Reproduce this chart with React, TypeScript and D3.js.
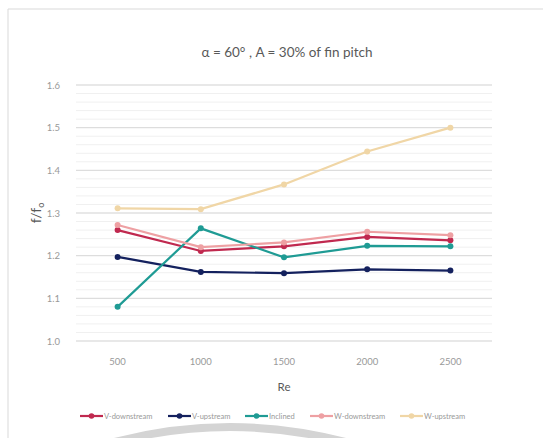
import React from "react";
import * as d3 from "d3";

const categories = [500, 1000, 1500, 2000, 2500];
const seriesNames = ["V-downstream", "V-upstream", "Inclined", "W-downstream", "W-upstream"];
const vDownstream = [1.260, 1.211, 1.222, 1.244, 1.236];
const vUpstream = [1.197, 1.162, 1.159, 1.168, 1.165];
const inclined = [1.080, 1.264, 1.196, 1.223, 1.222];
const wDownstream = [1.272, 1.220, 1.231, 1.256, 1.248];
const wUpstream = [1.311, 1.309, 1.367, 1.444, 1.500];
const yTicks = [1.0, 1.1, 1.2, 1.3, 1.4, 1.5, 1.6];
const colors = ["#c0294f", "#14215e", "#1f9b94", "#eea0a3", "#f0d6a6"];

const W = 543;
const H = 438;
const left = 76;
const right = 492;
const top = 85;
const bottom = 341;

export default function App() {
  const x = d3.scalePoint<number>().domain(categories).range([left, right]).padding(0.5);
  const y = d3.scaleLinear().domain([1.0, 1.6]).range([bottom, top]);
  const minor = d3.range(0, 31).map((i) => 1.0 + i * 0.02);
  const allSeries = [vDownstream, vUpstream, inclined, wDownstream, wUpstream];
  const line = d3
    .line<number>()
    .x((_, i) => x(categories[i]) as number)
    .y((d) => y(d));
  const font = "Lato, 'Noto Sans', sans-serif";
  const legendX = [80, 168, 245, 310, 400];
  const legendY = 416;
  return (
    <svg
      width={W}
      height={H}
      style={{ position: "absolute", left: 0, top: 0, background: "#fff" }}
      fontFamily={font}
    >
      <rect x={0} y={0} width={W} height={H} fill="#fff" />
      <line x1={8} y1={9} x2={W} y2={9} stroke="#d9d9d9" strokeWidth={1} />
      <line x1={8} y1={9} x2={8} y2={H} stroke="#d9d9d9" strokeWidth={1} />
      <text x={287} y={57} textAnchor="middle" fontSize={13.5} fill="#595959">
        {"α = 60° , A = 30% of fin pitch"}
      </text>
      {minor.map((v, i) => (
        <line
          key={"m" + i}
          x1={left}
          x2={right}
          y1={y(v)}
          y2={y(v)}
          stroke="#f0f0f0"
          strokeWidth={1}
        />
      ))}
      {yTicks.map((v) => (
        <g key={"t" + v}>
          <line x1={left} x2={right} y1={y(v)} y2={y(v)} stroke="#d9d9d9" strokeWidth={1} />
          <text x={60} y={y(v) + 3.5} textAnchor="end" fontSize={9.5} fill="#999999">
            {v.toFixed(1)}
          </text>
        </g>
      ))}
      {categories.map((c) => (
        <text key={"x" + c} x={x(c)} y={365} textAnchor="middle" fontSize={9.5} fill="#999999">
          {c}
        </text>
      ))}
      <text x={284} y={391} textAnchor="middle" fontSize={11.5} fill="#595959">
        Re
      </text>
      <text
        transform={`translate(41,213) rotate(-90)`}
        textAnchor="middle"
        fontSize={14}
        fill="#595959"
      >
        f/f
        <tspan fontSize={9} dy={3}>
          o
        </tspan>
      </text>
      {allSeries.map((s, k) => (
        <g key={"s" + k}>
          <path d={line(s) || ""} fill="none" stroke={colors[k]} strokeWidth={2.2} />
          {s.map((v, i) => (
            <circle key={i} cx={x(categories[i])} cy={y(v)} r={3} fill={colors[k]} />
          ))}
        </g>
      ))}
      {seriesNames.map((n, k) => (
        <g key={"l" + n}>
          <line
            x1={legendX[k]}
            x2={legendX[k] + 23}
            y1={legendY}
            y2={legendY}
            stroke={colors[k]}
            strokeWidth={2.2}
          />
          <circle cx={legendX[k] + 11.5} cy={legendY} r={2.8} fill={colors[k]} />
          <text x={legendX[k] + 24} y={legendY + 3} fontSize={7.5} fill="#999999">
            {n}
          </text>
        </g>
      ))}
      <path
        d="M 100 446 Q 230 408 360 446"
        fill="none"
        stroke="#d4d4d4"
        strokeWidth={8}
      />
    </svg>
  );
}
